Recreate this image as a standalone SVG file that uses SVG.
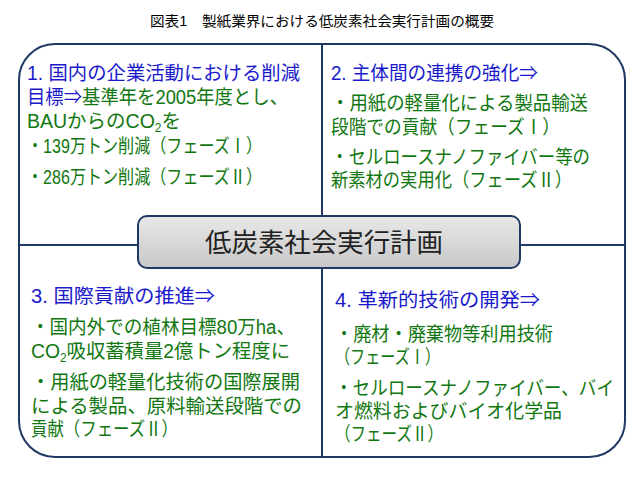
<svg xmlns="http://www.w3.org/2000/svg" width="640" height="480" viewBox="0 0 640 480">
<defs>
<linearGradient id="g" x1="0" y1="0" x2="0" y2="1"><stop offset="0" stop-color="#e8e8e8"/><stop offset="1" stop-color="#c8c8c8"/></linearGradient>
</defs>
<style>
text{font-family:"Liberation Sans","Noto Sans CJK JP",sans-serif;font-size:19.5px}
.b{fill:#1a1acc}.g{fill:#117711}
.t{font-size:14px;fill:#000}
.ln{stroke:#1f3864;stroke-width:2;fill:none}
</style>
<rect width="640" height="480" fill="#fff"/>
<text class="t" x="150" y="26" textLength="344" lengthAdjust="spacingAndGlyphs">図表1　製紙業界における低炭素社会実行計画の概要</text>
<g id="connectors">
<rect class="ln" x="19" y="44" width="606" height="413" rx="36"/>
<line class="ln" x1="322" y1="44" x2="322" y2="457"/>
<line class="ln" x1="19" y1="245" x2="625" y2="245"/>
</g>
<g id="center">
<rect x="138" y="216" width="382" height="52" rx="9" fill="url(#g)" stroke="#1f3864" stroke-width="2"/>
<text x="205" y="252" textLength="238" lengthAdjust="spacingAndGlyphs" style="font-size:26px;fill:#222">低炭素社会実行計画</text>
</g>
<g id="q1" lengthAdjust="spacingAndGlyphs">
<text class="b" x="27" y="80" textLength="273" lengthAdjust="spacingAndGlyphs">1. 国内の企業活動における削減</text>
<text x="27" y="104" textLength="261" lengthAdjust="spacingAndGlyphs"><tspan class="b">目標⇒</tspan><tspan class="g">基準年を2005年度とし、</tspan></text>
<text class="g" x="27" y="128">BAUからのCO<tspan style="font-size:12px" dy="4">2</tspan><tspan dy="-4">を</tspan></text>
<text class="g" x="27" y="153" textLength="235" lengthAdjust="spacingAndGlyphs">・139万トン削減（フェーズⅠ）</text>
<text class="g" x="27" y="184" textLength="235" lengthAdjust="spacingAndGlyphs">・286万トン削減（フェーズⅡ）</text>
</g>
<g id="q2">
<text class="b" x="331" y="80" textLength="207" lengthAdjust="spacingAndGlyphs">2. 主体間の連携の強化⇒</text>
<text class="g" x="331" y="110" textLength="257" lengthAdjust="spacingAndGlyphs">・用紙の軽量化による製品輸送</text>
<text class="g" x="331" y="134" textLength="229" lengthAdjust="spacingAndGlyphs">段階での貢献（フェーズⅠ）</text>
<text class="g" x="331" y="164" textLength="259" lengthAdjust="spacingAndGlyphs">・セルロースナノファイバー等の</text>
<text class="g" x="331" y="187" textLength="241" lengthAdjust="spacingAndGlyphs">新素材の実用化（フェーズⅡ）</text>
</g>
<g id="q3">
<text class="b" x="31" y="303" textLength="184" lengthAdjust="spacingAndGlyphs">3. 国際貢献の推進⇒</text>
<text class="g" x="31" y="334" textLength="264" lengthAdjust="spacingAndGlyphs">・国内外での植林目標80万ha、</text>
<text class="g" x="31" y="358" textLength="259" lengthAdjust="spacingAndGlyphs">CO<tspan style="font-size:12px" dy="4">2</tspan><tspan dy="-4">吸収蓄積量2億トン程度に</tspan></text>
<text class="g" x="31" y="389" textLength="269" lengthAdjust="spacingAndGlyphs">・用紙の軽量化技術の国際展開</text>
<text class="g" x="31" y="413" textLength="271" lengthAdjust="spacingAndGlyphs">による製品、原料輸送段階での</text>
<text class="g" x="31" y="436" textLength="147" lengthAdjust="spacingAndGlyphs">貢献（フェーズⅡ）</text>
</g>
<g id="q4">
<text class="b" x="335" y="307" textLength="205" lengthAdjust="spacingAndGlyphs">4. 革新的技術の開発⇒</text>
<text class="g" x="335" y="341" textLength="218" lengthAdjust="spacingAndGlyphs">・廃材・廃棄物等利用技術</text>
<text class="g" x="335" y="364" textLength="105" lengthAdjust="spacingAndGlyphs">（フェーズⅠ）</text>
<text class="g" x="335" y="395" textLength="279" lengthAdjust="spacingAndGlyphs">・セルロースナノファイバー、バイ</text>
<text class="g" x="335" y="418" textLength="227" lengthAdjust="spacingAndGlyphs">オ燃料およびバイオ化学品</text>
<text class="g" x="335" y="441" textLength="108" lengthAdjust="spacingAndGlyphs">（フェーズⅡ）</text>
</g>
</svg>
